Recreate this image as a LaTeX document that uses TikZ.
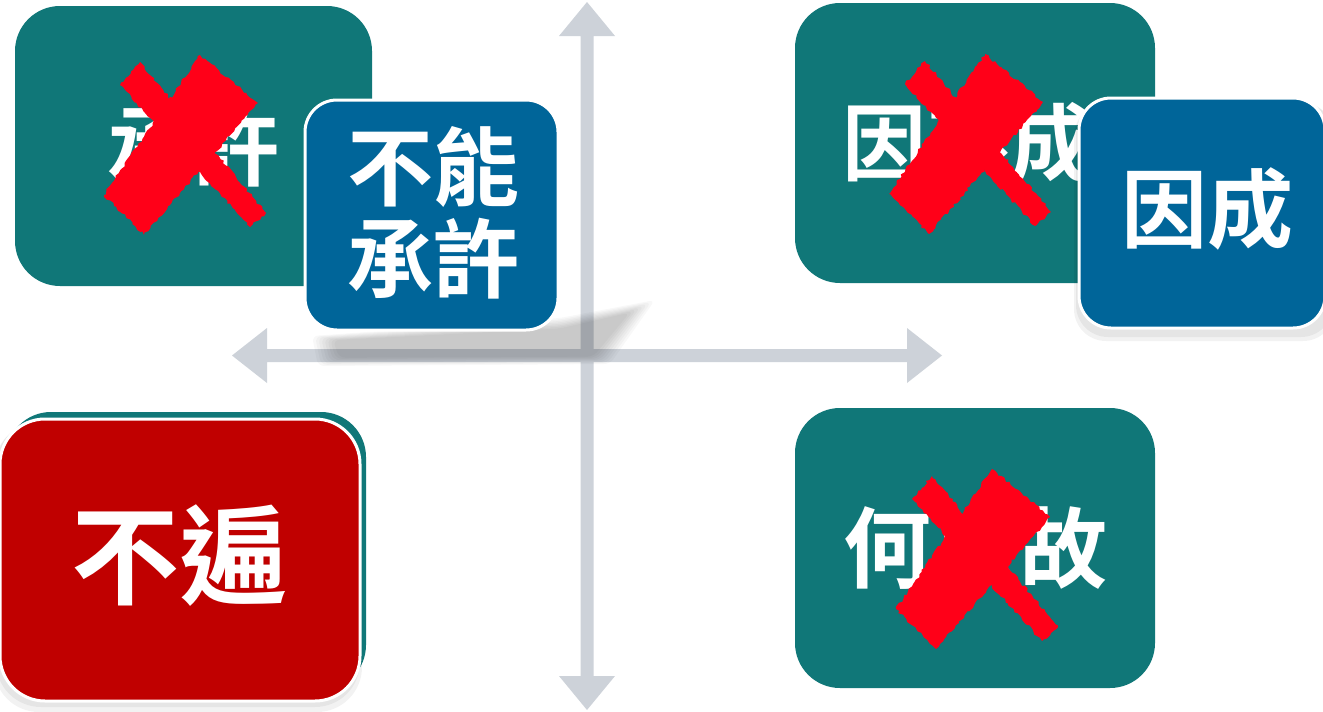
\documentclass[tikz,border=0pt]{standalone}
\usepackage{fontspec}
\newfontfamily\cjk{Noto Sans CJK TC Bold}
\usetikzlibrary{decorations.pathmorphing,calc}
\definecolor{tealbg}{RGB}{16,119,120}
\definecolor{bluebg}{RGB}{0,101,153}
\definecolor{redbg}{RGB}{192,0,0}
\definecolor{axisgray}{RGB}{205,210,217}
\definecolor{xred}{RGB}{255,0,24}
\begin{document}
\begin{tikzpicture}[x=1pt,y=-1pt,
  tealbox/.style={fill=tealbg, rounded corners=45pt, inner sep=0pt},
  bluebox/.style={fill=bluebg, draw=white, line width=3pt, rounded corners=32pt, inner sep=0pt},
  redbox/.style={fill=redbg, draw=white, line width=3pt, rounded corners=45pt, inner sep=0pt},
  lbl/.style={text=white, inner sep=0pt, align=center},
  axis/.style={fill=axisgray},
  brush/.style={fill=xred, decorate, decoration={random steps, segment length=3pt, amplitude=1.4pt}},
  redx/.pic={
    \fill[brush] (-68,-60) -- (-48,-83) -- (78,68) -- (62,82) -- cycle;
    \fill[brush] (12,-90) -- (70,-42) -- (-44,90) -- (-84,50) -- cycle;
  }
]
\useasboundingbox (0,0) rectangle (1323,712);
\clip (0,0) rectangle (1323,712);
\fill[white] (0,0) rectangle (1323,712);

% axes
\coordinate (o) at (587,355.5);
\fill[axis] (580.5,36) -- (559,36) -- (587,2) -- (615,36) -- (593.5,36)
  -- (593.5,676) -- (615,676) -- (587,710) -- (559,676) -- (580.5,676) -- cycle;
\fill[axis] (267,349) -- (267,328) -- (232,355.5) -- (267,383) -- (267,362)
  -- (907,362) -- (907,383) -- (942,355.5) -- (907,328) -- (907,349) -- cycle;

% soft perspective shadow of the blue box
\foreach \d in {0,3,6,9,12,15,18,21}{
  \fill[black, opacity=0.028, rounded corners=6pt] (312+\d,336+\d*0.2) -- (560,318+\d*0.5) -- (655-\d*1.2,300+\d*0.6)
     -- (610-\d*0.8,364-\d*0.35) -- (318+\d,366-\d*0.4) -- cycle;
}

% top-left
\node[tealbox, minimum width=357pt, minimum height=280pt] (tl) at (193.5,146) {};
\node[lbl, font=\cjk\fontsize{86}{90}\selectfont] (tlt) at (193,147) {承許};
\pic (xa) at (188,145) {redx};

% blue box 1
\node[bluebox, minimum width=253pt, minimum height=230pt] (b1) at (431.5,215) {};
\node[lbl, font=\cjk\fontsize{86}{92}\selectfont] (b1t) at (433,213) {不能\\承許};

% top-right
\node[tealbox, minimum width=360pt, minimum height=280pt] (tr) at (975,143) {};
\node[lbl, font=\cjk\fontsize{84}{90}\selectfont] (trt) at (968,143) {因不成};
\pic (xb) at (973,144) {redx};

% blue box 2 with soft shadow
\fill[black, opacity=0.05, rounded corners=32pt] (1074,104) rectangle (1335,341);
\fill[black, opacity=0.05, rounded corners=32pt] (1076,102) rectangle (1333,337);
\node[bluebox, minimum width=246pt, minimum height=230pt] (b2) at (1202,213) {};
\node[lbl, font=\cjk\fontsize{86}{90}\selectfont] (b2t) at (1207,209) {因成};

% bottom-left
\node[tealbox, minimum width=360pt, minimum height=278pt] (bl0) at (186,551) {};
\fill[black, opacity=0.05, rounded corners=45pt] (-6,423) rectangle (362,712);
\fill[black, opacity=0.05, rounded corners=45pt] (-4,421) rectangle (360,707);
\node[redbox, minimum width=360pt, minimum height=282pt] (bl) at (180,560) {};
\node[lbl, font=\cjk\fontsize{108}{110}\selectfont] (blt) at (179,556) {不遍};

% bottom-right
\node[tealbox, minimum width=360pt, minimum height=280pt] (br) at (975,548) {};
\node[lbl, font=\cjk\fontsize{88}{90}\selectfont] (brt) at (975,548) {何以故};
\pic (xc) at (980,559) {redx};
\end{tikzpicture}
\end{document}
